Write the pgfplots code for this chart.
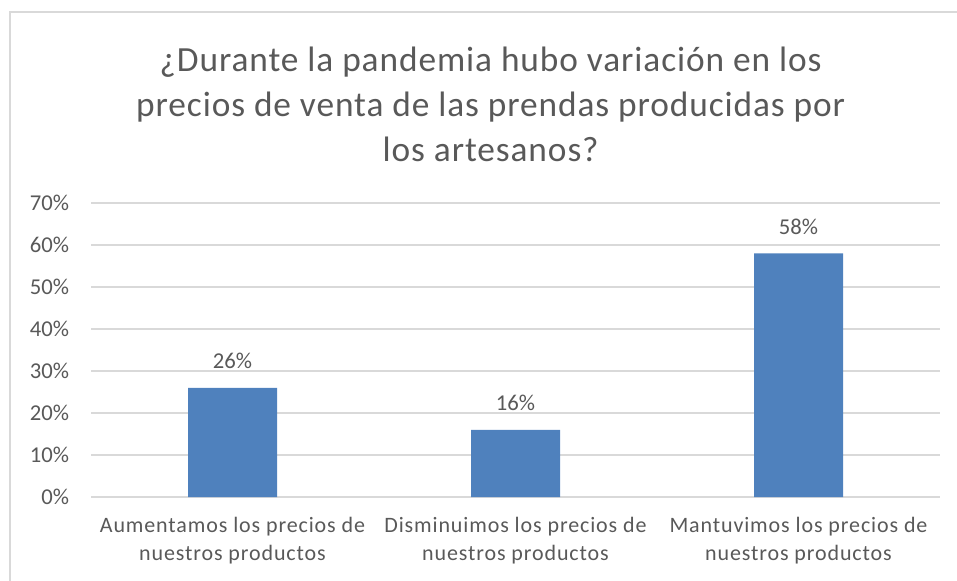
\documentclass[border=0pt]{standalone}
\usepackage{fontspec}
\setmainfont{Carlito}
\newfontfamily\titlefont[LetterSpace=2.6]{Carlito}
\newfontfamily\catfont[LetterSpace=4]{Carlito}
\usepackage{pgfplots}
\pgfplotsset{compat=1.18}
\definecolor{barblue}{HTML}{4F81BD}
\definecolor{txtgray}{HTML}{595959}
\definecolor{gridgray}{HTML}{D9D9D9}
\begin{document}
\begin{tikzpicture}
% page = 957x581 px at 0.75pt per px
\useasboundingbox (0,0) rectangle (717.75pt,-435.75pt);
\draw[gridgray, line width=1.2pt] (7.5pt,-450pt) |- (730pt,-9pt);
% title
\begin{scope}[every node/.style={anchor=base, text=txtgray, font=\titlefont\fontsize{26.5}{30}\selectfont, inner sep=0pt}]
\node at (368pt,-54pt) {¿Durante la pandemia hubo variación en los};
\node at (368pt,-87.75pt) {precios de venta de las prendas producidas por};
\node at (368pt,-121.5pt) {los artesanos?};
\end{scope}
\begin{axis}[
  at={(68.25pt,-372.75pt)}, anchor=south west,
  scale only axis,
  width=636.75pt, height=220.5pt,
  xmin=-0.5, xmax=2.5,
  ymin=0, ymax=70,
  ytick={0,10,...,70},
  xtick={0,1,2},
  xticklabels={{Aumentamos los precios de\\nuestros productos},
               {Disminuimos los precios de\\nuestros productos},
               {Mantuvimos los precios de\\nuestros productos}},
  yticklabel={\pgfmathprintnumber[assume math mode=true]{\tick}\%},
  axis line style={draw=none},
  major tick length=0pt,
  ymajorgrids,
  major grid style={draw=gridgray, line width=1pt},
  tick label style={text=txtgray},
  yticklabel style={font=\fontsize{17}{20}\selectfont, xshift=-13pt},
  xticklabel style={font=\catfont\fontsize{16.5}{21}\selectfont, align=center, yshift=-11.5pt},
  ybar, bar width=66.75pt,
  nodes near coords={\pgfmathprintnumber[assume math mode=true]{\pgfplotspointmeta}\%},
  every node near coord/.append style={font=\fontsize{17}{20}\selectfont, text=txtgray, anchor=base, yshift=14.5pt, inner sep=0pt},
]
\addplot[fill=barblue, draw=none] coordinates {(0,26) (1,16) (2,58)};
\end{axis}
\end{tikzpicture}
\end{document}
